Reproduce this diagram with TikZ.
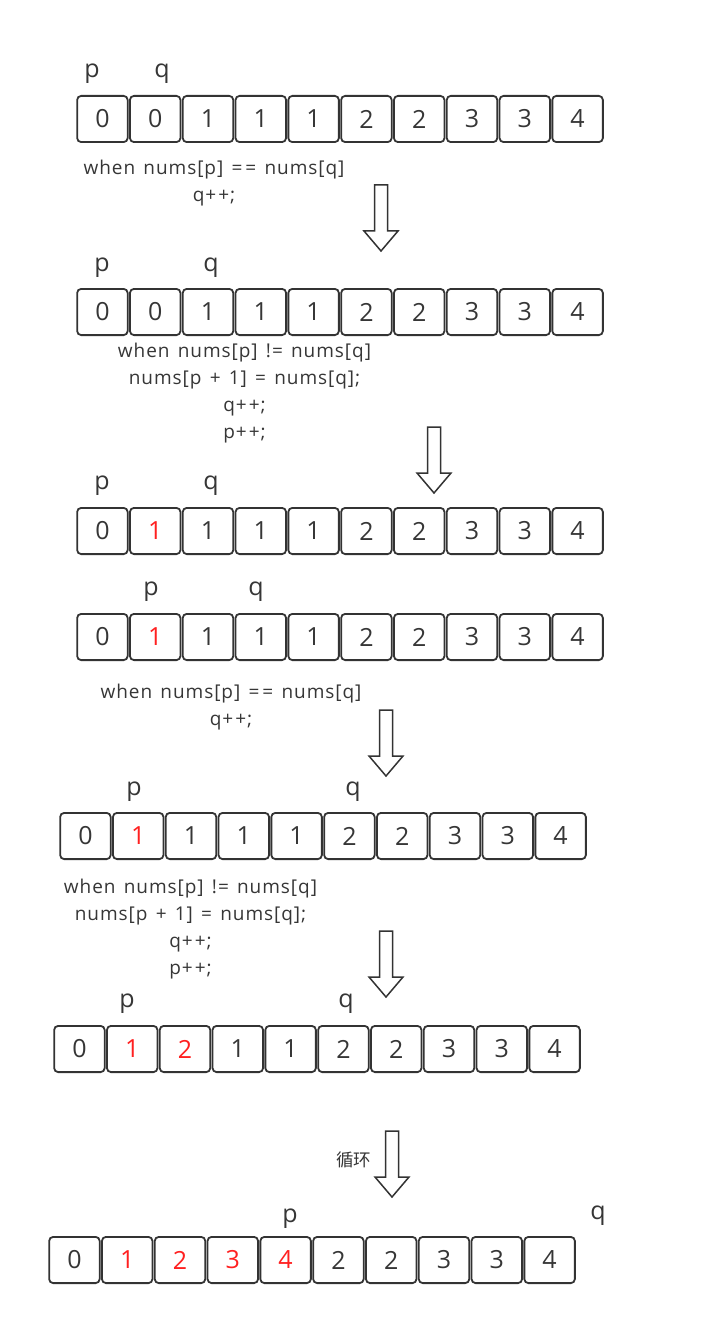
\documentclass[tikz,border=0pt]{standalone}
\usepackage{fontspec}
\setmainfont{Open Sans}
\newfontfamily\codefont[LetterSpace=5,WordSpace=1.4]{Open Sans}
\newfontfamily\cjk{Noto Sans CJK SC}
\definecolor{ink}{HTML}{333333}
\definecolor{txt}{HTML}{363636}
\definecolor{hl}{HTML}{FF2020}
\tikzset{
  cell/.style={draw=ink, line width=1.8pt, rounded corners=4pt, minimum width=50.5pt,
    minimum height=46.2pt, inner sep=0pt, font=\fontsize{25}{25}\selectfont},
  ptr/.style={font=\fontsize{25}{25}\selectfont, text=txt, anchor=base, inner sep=0pt},
  code/.style={font=\codefont\fontsize{19}{27}\selectfont, text=txt, align=center, inner sep=0pt},
  bigarrow/.style={draw=ink, line width=1.5pt, fill=white, line join=miter},
}
\newcommand\eqeq{=\kern3pt=}
\newcommand\pp{+\kern2pt+}
\newcommand\bigdown[2]{%
  \draw[bigarrow] ({#1-6.5},#2) -- ({#1+6.5},#2) -- ({#1+6.5},{#2+46}) -- ({#1+17},{#2+46})
    -- (#1,{#2+66}) -- ({#1-17},{#2+46}) -- ({#1-6.5},{#2+46}) -- cycle;}
\begin{document}
\begin{tikzpicture}[x=1pt,y=-1pt]
\useasboundingbox (0,0) rectangle (710,1324);
\foreach \r/\x/\y/\k/\vals in {
  1/76/95/0/{0,0,1,1,1,2,2,3,3,4},
  2/76/288/0/{0,0,1,1,1,2,2,3,3,4},
  3/76/507/1/{0,1,1,1,1,2,2,3,3,4},
  4/76/613/1/{0,1,1,1,1,2,2,3,3,4},
  5/59/812/1/{0,1,1,1,1,2,2,3,3,4},
  6/53/1025/2/{0,1,2,1,1,2,2,3,3,4},
  7/48/1236/4/{0,1,2,3,4,2,2,3,3,4}}{
  \foreach \v [count=\i] in \vals {
    \def\col{txt}\ifnum\i>1 \ifnum\i<\numexpr\k+2\relax\def\col{hl}\fi\fi
    \node[cell, text=\col] (c\r-\i) at ({\x+26.4+52.8*(\i-1)}, {\y+24}) {\v};
  }
}
% pointers
\node[ptr] (p1) at (92,78) {p};   \node[ptr] (q1) at (162,78) {q};
\node[ptr] (p2) at (102,271) {p}; \node[ptr] (q2) at (211,271) {q};
\node[ptr] (p3) at (102,489) {p}; \node[ptr] (q3) at (211,489) {q};
\node[ptr] (p4) at (151,595) {p}; \node[ptr] (q4) at (256,595) {q};
\node[ptr] (p5) at (134,795) {p}; \node[ptr] (q5) at (353,795) {q};
\node[ptr] (p6) at (127,1007) {p}; \node[ptr] (q6) at (346,1007) {q};
\node[ptr] (p7) at (290,1222) {p}; \node[ptr] (q7) at (598,1219) {q};
% code
\node[code] (t1) at (214,183) {when nums[p] \eqeq{} nums[q]\\q\pp;};
\node[code] (t2) at (244.5,393) {when nums[p] != nums[q]\\nums[p + 1] = nums[q];\\q\pp;\\p\pp;};
\node[code] (t3) at (231,707) {when nums[p] \eqeq{} nums[q]\\q\pp;};
\node[code] (t4) at (190.5,929) {when nums[p] != nums[q]\\nums[p + 1] = nums[q];\\q\pp;\\p\pp;};
\node[font=\cjk\fontsize{17.5}{17.5}\selectfont, text=txt, inner sep=0pt] (loop) at (353.5,1160) {循环};
% arrows
\bigdown{381}{185}
\bigdown{434}{427}
\bigdown{386}{710}
\bigdown{386}{931}
\bigdown{392}{1131}
\end{tikzpicture}
\end{document}
